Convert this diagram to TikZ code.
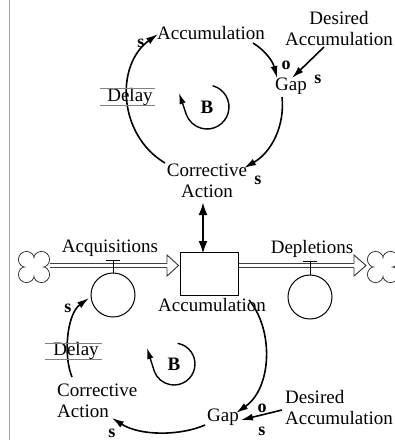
\documentclass[tikz,border=0pt]{standalone}
\usepackage{fontspec}
\setmainfont{Liberation Serif}
\usetikzlibrary{arrows.meta}
\begin{document}
\begin{tikzpicture}[x=1pt,y=-1pt,
  lbl/.style={font=\fontsize{19}{21}\selectfont, inner sep=0pt, align=center},
  lbll/.style={font=\fontsize{19}{21}\selectfont, inner sep=0pt, align=left},
  pol/.style={font=\fontsize{18}{18}\selectfont\bfseries, inner sep=0pt},
  loopname/.style={font=\fontsize{19}{19}\selectfont\bfseries, inner sep=0pt},
  link/.style={line width=1.6pt, -{Latex[length=12pt,width=7pt]}},
  looparrow/.style={line width=1.4pt, -{Latex[length=11pt,width=6.5pt]}},
  biarrow/.style={line width=2.4pt, {Latex[length=13pt,width=9pt]}-{Latex[length=13pt,width=9pt]}},
  pipeline/.style={line width=0.8pt, draw=black!75, double=white, double distance=3.2pt},
  pipehead/.style={line width=0.9pt, draw=black!80, fill=white},
  delayline/.style={line width=1pt, draw=black!50},
  valvebar/.style={line width=1.8pt},
  valvestem/.style={line width=1pt},
  valvecirc/.style={line width=1pt},
  stockbox/.style={draw, line width=1pt, fill=white, minimum width=58pt, minimum height=43pt, inner sep=0pt},
]
\useasboundingbox (0,0) rectangle (395,440);
% left frame line
\draw[gray!70, line width=1pt] (9.5,0) -- (9.5,440);

% ================= TOP LOOP =================
\node[lbl] (accT) at (211,33) {Accumulation};
\node[lbl] (desT) at (339,28) {Desired\\Accumulation};
\node[lbl] (gapT) at (291,86) {Gap};
\node[lbl] (corT) at (207,181) {Corrective\\Action};
\node[lbl] (delayT) at (130,97) {Delay};
\node[loopname] (loopT) at (207,107) {B};

\coordinate (aT1) at (253,43);
\coordinate (aT2) at (277,78);
\draw[link] (aT1) .. controls (266,51) and (273,62) .. (aT2);
\coordinate (dT1) at (324,47);
\coordinate (dT2) at (292,78);
\draw[link] (dT1) -- (dT2);
\coordinate (gT1) at (282,97);
\coordinate (gT2) at (244,168);
\draw[link] (gT1) .. controls (285,125) and (272,152) .. (gT2);
\coordinate (cT1) at (165,163);
\coordinate (cT2) at (158,34);
\draw[link] (cT1) .. controls (118,135) and (115,65) .. (cT2);

\node[pol] (oT) at (286,65) {o};
\node[pol] (sT1) at (318,79) {s};
\node[pol] (sT2) at (258,180) {s};
\node[pol] (sT3) at (141,43) {s};

\draw[delayline] (100,88) -- (155,88);
\draw[delayline] (100,105) -- (155,105);

\draw[looparrow] (loopT.center) ++(-75:22) arc[start angle=-75, end angle=160, radius=22] -- (179,93);

% ================= BOTTOM: STOCK AND FLOWS =================
\node[stockbox] (stock) at (209,273.5) {};
\node[lbl] (accB) at (212,305) {Accumulation};
\node[lbl] (acq) at (110,248) {Acquisitions};
\node[lbl] (dep) at (312,249) {Depletions};

% double arrow between corrective action and stock
\coordinate (ba1) at (203,202);
\coordinate (ba2) at (203,254);
\draw[biarrow] (ba1) -- (ba2);

% clouds
\foreach \cx/\nm in {34/cloudL, 383/cloudR}{
  \coordinate (\nm) at (\cx,267);
  \foreach \dx/\dy in {-7.5/-7.5, 7.5/-7.5, -7.5/7.5, 7.5/7.5}
    \draw[line width=0.9pt, draw=black!80] (\cx+\dx,267+\dy) circle[radius=8];
  \foreach \dx/\dy in {-7.5/-7.5, 7.5/-7.5, -7.5/7.5, 7.5/7.5}
    \fill[white] (\cx+\dx,267+\dy) circle[radius=7.4];
  \fill[white] (\cx-7.5,259.5) rectangle (\cx+7.5,274.5);
}

% inflow pipe
\coordinate (pA1) at (49.5,265.5);
\coordinate (pA2) at (167,265.5);
\draw[pipeline] (pA1) -- (pA2);
\draw[pipehead] (167,263.5) -- (167,255) -- (178.5,265.5) -- (167,276) -- (167,267.5);
% outflow pipe
\coordinate (pD1) at (stock.east|-pA1);
\coordinate (pD2) at (354,265.5);
\draw[pipeline] (pD1) -- (pD2);
\draw[pipehead] (354,263.5) -- (354,255) -- (366,265.5) -- (354,276) -- (354,267.5);

% valves
\node[draw, circle, valvecirc, minimum size=44pt, inner sep=0pt] (valveA) at (113,295) {};
\draw[valvestem] (113,260) -- (valveA.north);
\draw[valvebar] (106,260.5) -- (120,260.5);
\node[draw, circle, valvecirc, minimum size=44pt, inner sep=0pt] (valveD) at (310,297) {};
\draw[valvestem] (310,261) -- (valveD.north);
\draw[valvebar] (303,261.5) -- (317,261.5);

% ================= BOTTOM LOOP =================
\node[lbl] (gapB) at (223,417) {Gap};
\node[lbll, anchor=west] (desB) at (285,407) {Desired\\Accumulation};
\node[lbll, anchor=west] (corB) at (57,401) {Corrective\\Action};
\node[lbl] (delayB) at (76,351) {Delay};
\node[loopname] (loopB) at (174,364) {B};

\coordinate (aB1) at (249,300);
\coordinate (aB2) at (236,413);
\draw[link] (aB1) .. controls (274,330) and (272,388) .. (aB2);
\coordinate (dB1) at (282,410);
\coordinate (dB2) at (241,420);
\draw[link] (dB1) -- (dB2);
\coordinate (gB1) at (205,425);
\coordinate (gB2) at (112,418);
\draw[link] (gB1) .. controls (180,436) and (140,436) .. (gB2);
\coordinate (cB1) at (72,377);
\coordinate (cB2) at (89,298);
\draw[link] (cB1) .. controls (63,355) and (67,314) .. (cB2);

\node[pol] (oB) at (262,408) {o};
\node[pol] (sB1) at (262,431) {s};
\node[pol] (sB2) at (112,433) {s};
\node[pol] (sB3) at (68,308) {s};

\draw[delayline] (45,343) -- (102,343);
\draw[delayline] (45,359) -- (102,359);

\draw[looparrow] (loopB.center) ++(-80:21) arc[start angle=-80, end angle=160, radius=21] -- (147,348);
\end{tikzpicture}
\end{document}
